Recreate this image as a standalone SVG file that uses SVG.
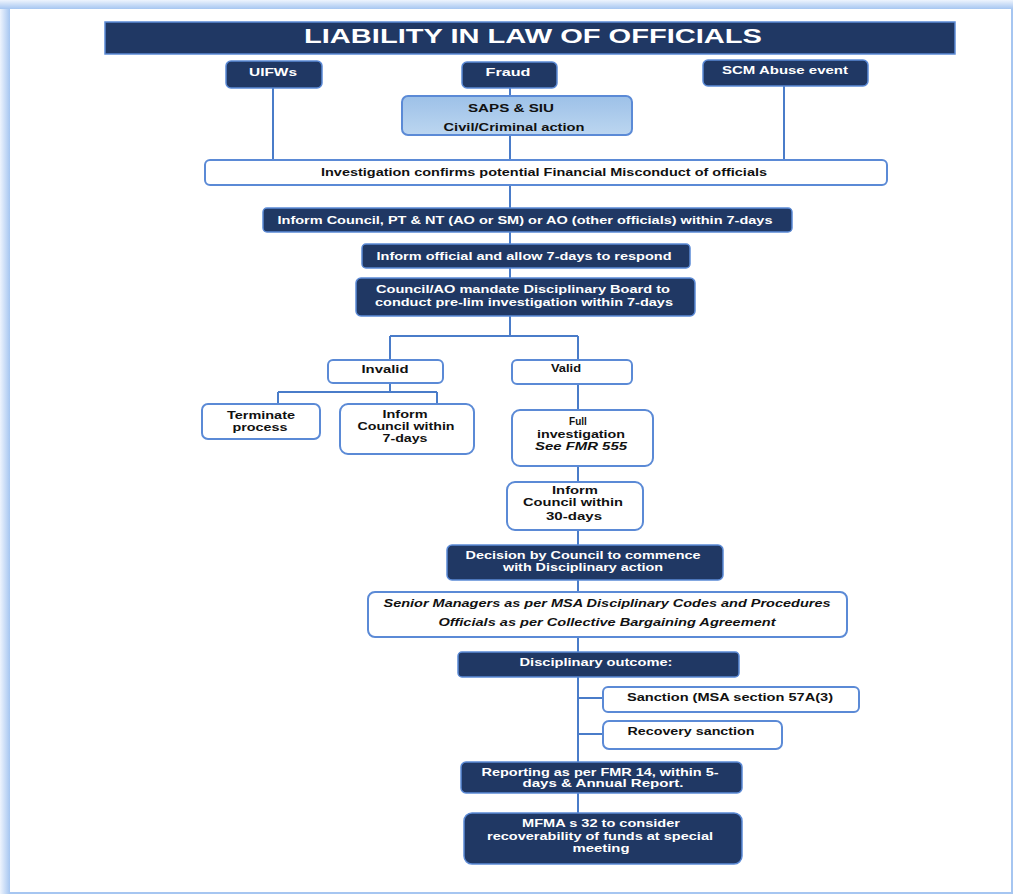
<svg xmlns="http://www.w3.org/2000/svg" width="1013" height="894" viewBox="0 0 1013 894">
<defs>
<linearGradient id="gl" x1="0" y1="0" x2="1" y2="0"><stop offset="0" stop-color="#eef4fd"/><stop offset="1" stop-color="#a6c6f1"/></linearGradient>
<linearGradient id="gt" x1="0" y1="0" x2="0" y2="1"><stop offset="0" stop-color="#eef4fd"/><stop offset="1" stop-color="#a6c6f1"/></linearGradient>
<linearGradient id="gs" x1="0" y1="0" x2="0" y2="1"><stop offset="0" stop-color="#9dc1e8"/><stop offset="1" stop-color="#bcd6f0"/></linearGradient>
<style>
.dark{fill:#203864;stroke:#5b8ad6;stroke-width:1.5}
.light{fill:#fff;stroke:#5b8ad6;stroke-width:2}
.saps{fill:url(#gs);stroke:#5b8ad6;stroke-width:2}
.con{stroke:#4a7cc9;stroke-width:2;fill:none}
text{font-family:"Liberation Sans",Arial,sans-serif;font-size:10px;font-weight:bold;text-anchor:middle}
.w{fill:#fff}
.b{fill:#111}
.i{font-style:italic}
</style>
</defs>
<rect x="0" y="0" width="1013" height="894" fill="#a6c6f1"/>
<rect x="0" y="0" width="10" height="894" fill="url(#gl)"/>
<rect x="0" y="0" width="1013" height="9" fill="url(#gt)"/>
<rect x="10" y="9" width="1001" height="883" fill="#fff"/>

<g id="connectors">
<path class="con" d="M273 88V161M784 86V161M510 88V96M510 135V161M510 185V208M510 232V244M510 268V278M510 316V336M390 336H578M390 336V360M578 336V360M390 383V392M278 392H437M278 392V404M437 392V404M578 384V410M578 466V482M578 530V545M578 580V592M578 637V652M578 677V762M578 793V813M578 698H603M578 734H603"/>
</g>

<g id="title">
<rect class="dark" x="105" y="22" width="850" height="32"/>
<text class="w" x="533" y="43" style="font-size:20px" textLength="458" lengthAdjust="spacingAndGlyphs">LIABILITY IN LAW OF OFFICIALS</text>
</g>

<g id="uifws">
<rect class="dark" x="226" y="61" width="96" height="27" rx="5"/>
<text class="w" x="273" y="75.5" textLength="48" lengthAdjust="spacingAndGlyphs">UIFWs</text>
</g>
<g id="fraud">
<rect class="dark" x="462" y="62" width="95" height="26" rx="5"/>
<text class="w" x="508" y="75.5" textLength="45" lengthAdjust="spacingAndGlyphs">Fraud</text>
</g>
<g id="scm">
<rect class="dark" x="703" y="60" width="165" height="26" rx="5"/>
<text class="w" x="785" y="73.5" textLength="126" lengthAdjust="spacingAndGlyphs">SCM Abuse event</text>
</g>
<g id="saps">
<rect class="saps" x="402" y="96" width="230" height="39" rx="6"/>
<text class="b" x="511" y="111.5" textLength="86" lengthAdjust="spacingAndGlyphs">SAPS &amp; SIU</text>
<text class="b" x="514" y="130.5" textLength="141" lengthAdjust="spacingAndGlyphs">Civil/Criminal action</text>
</g>
<g id="investigation">
<rect class="light" x="205" y="160" width="682" height="25" rx="5"/>
<text class="b" x="544" y="175.5" textLength="446" lengthAdjust="spacingAndGlyphs">Investigation confirms potential Financial Misconduct of officials</text>
</g>
<g id="inform-council">
<rect class="dark" x="263" y="208" width="529" height="24" rx="4"/>
<text class="w" x="525" y="223.5" textLength="495" lengthAdjust="spacingAndGlyphs">Inform Council, PT &amp; NT (AO or SM) or AO (other officials) within 7-days</text>
</g>
<g id="inform-official">
<rect class="dark" x="362" y="244" width="328" height="24" rx="4"/>
<text class="w" x="524" y="259.5" textLength="295" lengthAdjust="spacingAndGlyphs">Inform official and allow 7-days to respond</text>
</g>
<g id="mandate">
<rect class="dark" x="356" y="278" width="339" height="38" rx="5"/>
<text class="w" x="523" y="293" textLength="294" lengthAdjust="spacingAndGlyphs">Council/AO mandate Disciplinary Board to</text>
<text class="w" x="524" y="306" textLength="298" lengthAdjust="spacingAndGlyphs">conduct pre-lim investigation within 7-days</text>
</g>
<g id="invalid">
<rect class="light" x="328" y="360" width="115" height="23" rx="5"/>
<text class="b" x="385" y="372.5" textLength="47" lengthAdjust="spacingAndGlyphs">Invalid</text>
</g>
<g id="valid">
<rect class="light" x="512" y="360" width="120" height="24" rx="5"/>
<text class="b" x="566" y="371.5" textLength="30" lengthAdjust="spacingAndGlyphs">Valid</text>
</g>
<g id="terminate">
<rect class="light" x="202" y="404" width="118" height="35" rx="6"/>
<text class="b" x="261" y="418.5" textLength="68" lengthAdjust="spacingAndGlyphs">Terminate</text>
<text class="b" x="260" y="430.5" textLength="55" lengthAdjust="spacingAndGlyphs">process</text>
</g>
<g id="inform-7">
<rect class="light" x="340" y="404" width="134" height="50" rx="8"/>
<text class="b" x="405" y="417.5" textLength="45" lengthAdjust="spacingAndGlyphs">Inform</text>
<text class="b" x="406" y="429.5" textLength="97" lengthAdjust="spacingAndGlyphs">Council within</text>
<text class="b" x="405" y="441.5" textLength="45" lengthAdjust="spacingAndGlyphs">7-days</text>
</g>
<g id="full-investigation">
<rect class="light" x="512" y="410" width="141" height="56" rx="8"/>
<text class="b" x="578" y="424.5">Full</text>
<text class="b" x="581" y="437.5" textLength="88" lengthAdjust="spacingAndGlyphs">investigation</text>
<text class="b i" x="581" y="449.5" textLength="92" lengthAdjust="spacingAndGlyphs">See FMR 555</text>
</g>
<g id="inform-30">
<rect class="light" x="507" y="482" width="136" height="48" rx="8"/>
<text class="b" x="575" y="493.5" textLength="46" lengthAdjust="spacingAndGlyphs">Inform</text>
<text class="b" x="573" y="505.5" textLength="100" lengthAdjust="spacingAndGlyphs">Council within</text>
<text class="b" x="574" y="519.5" textLength="56" lengthAdjust="spacingAndGlyphs">30-days</text>
</g>
<g id="decision">
<rect class="dark" x="447" y="545" width="276" height="35" rx="5"/>
<text class="w" x="583" y="558.5" textLength="235" lengthAdjust="spacingAndGlyphs">Decision by Council to commence</text>
<text class="w" x="583" y="570.5" textLength="160" lengthAdjust="spacingAndGlyphs">with Disciplinary action</text>
</g>
<g id="procedures">
<rect class="light" x="368" y="592" width="479" height="45" rx="7"/>
<text class="b i" x="607" y="606.5" textLength="447" lengthAdjust="spacingAndGlyphs">Senior Managers as per MSA Disciplinary Codes and Procedures</text>
<text class="b i" x="607" y="625.5" textLength="337" lengthAdjust="spacingAndGlyphs">Officials as per Collective Bargaining Agreement</text>
</g>
<g id="outcome">
<rect class="dark" x="458" y="652" width="281" height="25" rx="4"/>
<text class="w" x="596" y="665.5" textLength="153" lengthAdjust="spacingAndGlyphs">Disciplinary outcome:</text>
</g>
<g id="sanction">
<rect class="light" x="603" y="687" width="256" height="25" rx="5"/>
<text class="b" x="730" y="700.5" textLength="206" lengthAdjust="spacingAndGlyphs">Sanction (MSA section 57A(3)</text>
</g>
<g id="recovery">
<rect class="light" x="603" y="721" width="179" height="28" rx="6"/>
<text class="b" x="691" y="734.5" textLength="127" lengthAdjust="spacingAndGlyphs">Recovery sanction</text>
</g>
<g id="reporting">
<rect class="dark" x="461" y="762" width="281" height="31" rx="5"/>
<text class="w" x="600" y="775.5" textLength="237" lengthAdjust="spacingAndGlyphs">Reporting as per FMR 14, within 5-</text>
<text class="w" x="603" y="786.5" textLength="161" lengthAdjust="spacingAndGlyphs">days &amp; Annual Report.</text>
</g>
<g id="mfma">
<rect class="dark" x="464" y="813" width="278" height="51" rx="8"/>
<text class="w" x="601" y="826.5" textLength="158" lengthAdjust="spacingAndGlyphs">MFMA s 32 to consider</text>
<text class="w" x="600" y="839.5" textLength="226" lengthAdjust="spacingAndGlyphs">recoverability of funds at special</text>
<text class="w" x="601" y="851.5" textLength="57" lengthAdjust="spacingAndGlyphs">meeting</text>
</g>
</svg>
